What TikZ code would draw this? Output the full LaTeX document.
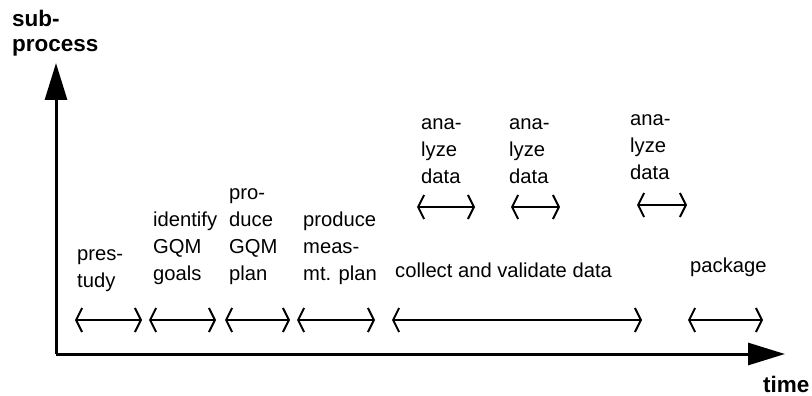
\documentclass[tikz,border=0pt]{standalone}
\usepackage{fontspec}
\setmainfont{Liberation Sans}
\usetikzlibrary{arrows.meta}
\tikzset{
  lbl/.style={anchor=base west, inner sep=0pt, align=left, font=\fontsize{20.2}{26.8}\selectfont},
  axlbl/.style={anchor=base west, inner sep=0pt, align=left, font=\fontsize{22.5}{25}\selectfont\bfseries},
  axis/.style={line width=3pt, -{Triangle[length=37pt,width=22pt]}},
  span/.style={line width=1.6pt, {Straight Barb[length=6pt,width=24pt,line width=2pt]}-{Straight Barb[length=6pt,width=24pt,line width=2pt]}}
}
\begin{document}
\begin{tikzpicture}[x=1pt,y=-1pt]
\useasboundingbox (0,0) rectangle (812,396);
% axes
\coordinate (origin) at (56,354);
\coordinate (ytop) at (56,63);
\coordinate (xend) at (785,354);
\draw[axis] (origin) -- (ytop);
\draw[axis] (origin) -- (xend);
\node[axlbl] (ylab) at (12,52) {sub-\\process};
\node[axlbl] (xlab) at (763,392) {time};
% labels (anchored at the baseline of the last line)
\node[lbl] (pre) at (77,287) {pres-\\tudy};
\node[lbl] (idg) at (153,280) {identify\\GQM\\goals};
\node[lbl] (pgp) at (229,280) {pro-\\duce\\GQM\\plan};
\node[lbl] (pmp) at (303,280) {produce\\meas-\\mt. plan};
\node[lbl] (cvd) at (395,277) {collect and validate data};
\node[lbl] (pkg) at (690,272) {package};
\node[lbl] (an1) at (421,183) {ana-\\lyze\\data};
\node[lbl] (an2) at (509,183) {ana-\\lyze\\data};
\node[lbl] (an3) at (630,179) {ana-\\lyze\\data};
% spans
\coordinate (s1a) at (75,320);  \coordinate (s1b) at (142,320);
\coordinate (s2a) at (149,320); \coordinate (s2b) at (216,320);
\coordinate (s3a) at (225,320); \coordinate (s3b) at (290,320);
\coordinate (s4a) at (297,320); \coordinate (s4b) at (375,320);
\coordinate (s5a) at (392,320); \coordinate (s5b) at (642,320);
\coordinate (s6a) at (688,320); \coordinate (s6b) at (763,320);
\coordinate (a1a) at (417,207); \coordinate (a1b) at (475,207);
\coordinate (a2a) at (511,207); \coordinate (a2b) at (560,207);
\coordinate (a3a) at (637,205); \coordinate (a3b) at (687,205);
\foreach \s in {s1,s2,s3,s4,s5,s6,a1,a2,a3}
  \draw[span] (\s a) -- (\s b);
\end{tikzpicture}
\end{document}
